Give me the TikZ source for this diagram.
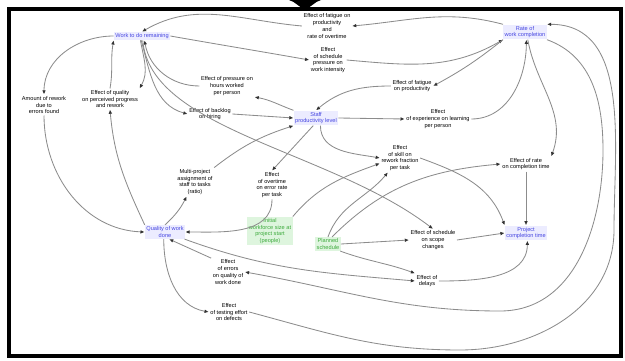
\documentclass[tikz,border=0pt]{standalone}
\usepackage{fontspec}
\setmainfont{Liberation Sans}
\usetikzlibrary{arrows, arrows.meta}
\definecolor{lvlblue}{RGB}{70,70,225}
\definecolor{lvlfill}{RGB}{236,236,255}
\definecolor{inpgreen}{RGB}{60,170,60}
\definecolor{inpfill}{RGB}{222,245,222}
\definecolor{lnkgray}{RGB}{140,140,140}
\tikzset{
	var/.style={align=center, inner sep=1pt, font=\fontsize{4}{4.8}\selectfont},
	lvl/.style={var, text=lvlblue, fill=lvlfill},
	inp/.style={var, text=inpgreen, fill=inpfill},
	lnk/.style={draw=lnkgray, line width=0.6pt, -{Latex[length=3pt,width=2.6pt,black!80]}}
}
\begin{document}
\begin{tikzpicture}[x=0.025cm,y=-0.025cm]
	\useasboundingbox (0,0) rectangle (625,361);
	\draw[line width=2.2pt] (9,9) rectangle (621,356);
	\fill (289,0) to[out=-15,in=165] (305,9) to[out=15,in=195] (321,0) -- cycle;

	% levels and inputs
	\node[lvl] (A) at (142,36) {Work to do remaining};
	\node[lvl] (B) at (525,32) {Rate of\\work completion};
	\node[lvl] (C) at (316,118) {Staff\\productivity level};
	\node[lvl] (D) at (165,232) {Quality of work\\done};
	\node[lvl] (E) at (526,233) {Project\\completion time};
	\node[inp] (F) at (270,231) {Initial\\workforce size at\\project start\\(people)};
	\node[inp] (G) at (328,244) {Planned\\schedule};

	% auxiliaries
	\node[var] (T1) at (327,26) {Effect of fatigue on\\productivity\\and\\rate of overtime};
	\node[var] (T2) at (328,60) {Effect\\of schedule\\pressure on\\work intensity};
	\node[var] (T3) at (44,105) {Amount of rework\\due to\\errors found};
	\node[var] (T4) at (110,99) {Effect of quality\\on perceived progress\\and rework};
	\node[var] (T5) at (227,86) {Effect of pressure on\\hours worked\\per person};
	\node[var] (T6) at (210,114) {Effect of backlog\\on hiring};
	\node[var] (T7) at (412,86) {Effect of fatigue\\on productivity};
	\node[var] (T8) at (438,119) {Effect\\of experience on learning\\per person};
	\node[var] (T9) at (195,182) {Multi-project\\assignment of\\staff to tasks\\(ratio)};
	\node[var] (T10) at (272,185) {Effect\\of overtime\\on error rate\\per task};
	\node[var] (T11) at (400,158) {Effect\\of skill on\\rework fraction\\per task};
	\node[var] (T12) at (526,164) {Effect of rate\\on completion time};
	\node[var] (T13) at (433,240) {Effect of schedule\\on scope\\changes};
	\node[var] (T14) at (427,281) {Effect of\\delays};
	\node[var] (T15) at (228,272) {Effect\\of errors\\on quality of\\work done};
	\node[var] (T16) at (229,312) {Effect\\of testing effort\\on defects};

	% links
	\draw[lnk] (B.north west) to[out=165,in=5] (T1.east);
	\draw[lnk] (T1.west) to[out=175,in=30] (A.north);
	\draw[lnk] (A.east) to[out=-10,in=170] (T2.west);
	\draw[lnk] (T2.east) to[out=-5,in=-150] (B.south west);
	\draw[lnk] (T5.west) to[out=180,in=-80] (A.-60);
	\draw[lnk] (C.north west) to[out=160,in=-10] (T5.south east);
	\draw[lnk] (A.-100) to[out=-75,in=165] (T6.west);
	\draw[lnk] (A.-110) to[out=-80,in=60] (T4.north east);
	\draw[lnk] (T6.east) -- (C.west);
	\draw[lnk] (A.west) to[out=180,in=90] (T3.north);
	\draw[lnk] (T4.north) to[out=80,in=-100] (A.south west);
	\draw[lnk] (D.north west) to[out=115,in=-85] (T4.south);
	\draw[lnk] (T3.south) to[out=-90,in=178] (D.west);
	\draw[lnk] (D.north) to[bend right=10] (T9.-120);
	\draw[lnk] (T9.north east) to[bend left=10] (C.south west);
	\draw[lnk] (C.-110) -- (T10.north);
	\draw[lnk] (T10.south) to[out=-90,in=0] (D.east);
	\draw[lnk] (C.-60) to[out=-90,in=170] (T11.west);
	\draw[lnk] (F.north east) to[out=50,in=-160] (T11.-165);
	\draw[lnk] (G.north) to[out=70,in=-130] (T11.-130);
	\draw[lnk] (G.60) to[out=45,in=185] (T12.west);
	\draw[lnk] (T11.east) to[out=-20,in=110] (E.north west);
	\draw[lnk] (B.-70) to[out=-80,in=70] (T12.north east);
	\draw[lnk] (T12.south) -- (E.north);
	\draw[lnk] (C.east) -- (T8.west);
	\draw[lnk] (T8.east) to[out=0,in=-90] (B.-80);
	\draw[lnk] (B.south west) to[bend left=5] (T7.east);
	\draw[lnk] (T7.west) to[out=180,in=40] (C.north);
	\draw[lnk] (B.south east) to[out=-20,in=90] (603,150) to[out=-90,in=0] (500,311) to[out=180,in=-10] (T15.east);
	\draw[lnk] (T16.east) to[out=-15,in=180] (460,350) to[out=0,in=-90] (614,230) to[out=90,in=0] (B.north east);
	\draw[lnk] (D.-100) to[out=-90,in=170] (T16.west);
	\draw[lnk] (T15.north west) -- (D.-60);
	\draw[lnk] (D.-20) to[out=-20,in=175] (T14.west);
	\draw[lnk] (G.-30) to[out=-20,in=160] (T14.north west);
	\draw[lnk] (G.east) -- (T13.west);
	\draw[lnk] (T13.east) -- (E.west);
	\draw[lnk] (T14.east) to[out=0,in=-90] (E.-80);
	\draw[lnk] (A.-80) .. controls (150,130) and (330,150) .. (T13.north);
\end{tikzpicture}
\end{document}
